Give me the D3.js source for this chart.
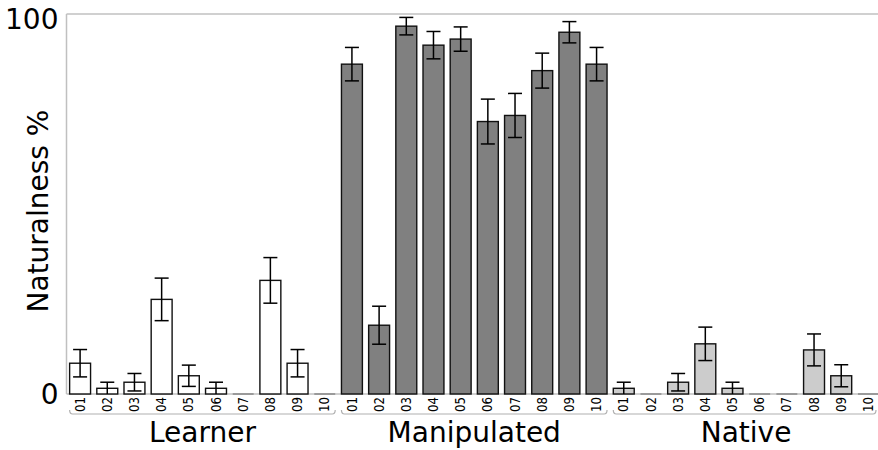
<!DOCTYPE html>
<html>
<head>
<meta charset="utf-8">
<script src="https://cdn.jsdelivr.net/npm/d3@7"></script>
<style>
  body { margin: 0; background: #fff; }
  svg { display: block; font-family: "DejaVu Sans", sans-serif; }
</style>
</head>
<body>
<svg width="878" height="450"></svg>
<script>
// groups and items
const groups = ['Learner', 'Manipulated', 'Native'];
const items = ['01', '02', '03', '04', '05', '06', '07', '08', '09', '10'];
const groupFills = ['#ffffff', '#808080', '#cccccc'];

// mean naturalness per item
const learnerValues = [8.1, 1.5, 3.1, 24.9, 4.8, 1.5, 0, 29.9, 8.1, 0];
const manipulatedValues = [86.8, 18.1, 96.8, 91.8, 93.4, 71.7, 73.3, 85.1, 95.2, 86.8];
const nativeValues = [1.5, 0, 3.1, 13.2, 1.5, 0, 0, 11.6, 4.8, 0];

// error (half-length of error bar)
const learnerErrors = [3.6, 1.6, 2.3, 5.6, 2.8, 1.6, 0, 6.0, 3.6, 0];
const manipulatedErrors = [4.4, 5.0, 2.3, 3.6, 3.2, 5.9, 5.8, 4.6, 2.8, 4.4];
const nativeErrors = [1.6, 0, 2.3, 4.4, 1.6, 0, 0, 4.2, 2.9, 0];

const yTicks = [0, 100];

const valuesByGroup = [learnerValues, manipulatedValues, nativeValues];
const errorsByGroup = [learnerErrors, manipulatedErrors, nativeErrors];

const data = [];
groups.forEach((g, gi) => {
    items.forEach((it, i) => {
        data.push({
            key: g + '-' + it,
            group: g,
            gi: gi,
            item: it,
            value: valuesByGroup[gi][i],
            err: errorsByGroup[gi][i]
        });
    });
});

const svg = d3.select('svg');
const plotLeft = 66.5, plotRight = 882, plotTop = 14, plotBottom = 394;

const x = d3.scaleBand()
    .domain(data.map(d => d.key))
    .range([plotLeft, plotRight])
    .paddingInner(0.23)
    .paddingOuter(0.115);

const y = d3.scaleLinear().domain([0, 100]).range([plotBottom, plotTop]);

const axisColor = '#c0c0c0';

// frame lines (left, top, bottom)
svg.append('line')
    .attr('x1', plotLeft).attr('x2', plotLeft)
    .attr('y1', plotTop).attr('y2', plotBottom)
    .attr('stroke', axisColor).attr('stroke-width', 1.5);
svg.append('line')
    .attr('x1', plotLeft).attr('x2', 878)
    .attr('y1', plotTop).attr('y2', plotTop)
    .attr('stroke', axisColor).attr('stroke-width', 1.5);
svg.append('line')
    .attr('x1', plotLeft).attr('x2', 878)
    .attr('y1', plotBottom).attr('y2', plotBottom)
    .attr('stroke', axisColor).attr('stroke-width', 1.5);

// bars
svg.selectAll('.bar')
    .data(data.filter(d => d.value > 0))
    .enter()
    .append('rect')
    .attr('class', 'bar')
    .attr('x', d => x(d.key))
    .attr('y', d => y(d.value))
    .attr('width', x.bandwidth())
    .attr('height', d => y(0) - y(d.value))
    .attr('fill', d => groupFills[d.gi])
    .attr('stroke', '#111')
    .attr('stroke-width', 1.4);

// zero-valued bars show as a flat mark on the baseline
svg.selectAll('.zero')
    .data(data.filter(d => d.value === 0))
    .enter()
    .append('line')
    .attr('x1', d => x(d.key))
    .attr('x2', d => x(d.key) + x.bandwidth())
    .attr('y1', y(0)).attr('y2', y(0))
    .attr('stroke', '#9a9a9a')
    .attr('stroke-width', 2);

// error bars
const capHalf = 7;
const errs = svg.selectAll('.err')
    .data(data.filter(d => d.err > 0))
    .enter()
    .append('g')
    .attr('class', 'err')
    .attr('stroke', '#000')
    .attr('stroke-width', 1.5);
errs.append('line')
    .attr('x1', d => x(d.key) + x.bandwidth() / 2)
    .attr('x2', d => x(d.key) + x.bandwidth() / 2)
    .attr('y1', d => y(Math.min(100, d.value + d.err)))
    .attr('y2', d => y(Math.max(0, d.value - d.err)));
errs.append('line')
    .attr('x1', d => x(d.key) + x.bandwidth() / 2 - capHalf)
    .attr('x2', d => x(d.key) + x.bandwidth() / 2 + capHalf)
    .attr('y1', d => y(d.value + d.err))
    .attr('y2', d => y(d.value + d.err));
errs.filter(d => d.value - d.err > 0).append('line')
    .attr('x1', d => x(d.key) + x.bandwidth() / 2 - capHalf)
    .attr('x2', d => x(d.key) + x.bandwidth() / 2 + capHalf)
    .attr('y1', d => y(d.value - d.err))
    .attr('y2', d => y(d.value - d.err));

// y tick labels
svg.selectAll('.ytick')
    .data(yTicks)
    .enter()
    .append('text')
    .attr('class', 'ytick')
    .attr('x', plotLeft - 8)
    .attr('y', d => Math.max(y(d), 19))
    .attr('dy', '0.35em')
    .attr('text-anchor', 'end')
    .attr('font-size', 28)
    .text(d => d);

// y axis title
svg.append('text')
    .attr('transform', 'translate(48,211) rotate(-90)')
    .attr('text-anchor', 'middle')
    .attr('font-size', 28)
    .text('Naturalness %');

// item labels, rotated to read bottom-to-top (squeezed a bit along their length)
const xticks = svg.selectAll('.xtick')
    .data(data)
    .enter()
    .append('g')
    .attr('class', 'xtick')
    .attr('transform', d => 'translate(' + (x(d.key) + x.bandwidth() / 2).toFixed(2) + ',397)');
xticks.append('text')
    .attr('transform', 'rotate(-90)')
    .attr('x', 0)
    .attr('y', 0)
    .attr('dy', '0.33em')
    .attr('text-anchor', 'end')
    .attr('font-size', 14)
    .attr('textLength', 15)
    .attr('lengthAdjust', 'spacingAndGlyphs')
    .text(d => d.item);

// group brackets and names
const groupInfo = groups.map((g, gi) => {
    const keys = data.filter(d => d.gi === gi).map(d => d.key);
    return {
        name: g,
        x0: x(keys[0]),
        x1: Math.min(x(keys[keys.length - 1]) + x.bandwidth(), 876)
    };
});

svg.selectAll('.bracket')
    .data(groupInfo)
    .enter()
    .append('path')
    .attr('class', 'bracket')
    .attr('d', d => `M${d.x0},410 Q${d.x0},414 ${d.x0 + 3},414 L${d.x1 - 3},414 Q${d.x1},414 ${d.x1},410`)
    .attr('fill', 'none')
    .attr('stroke', '#b0b0b0')
    .attr('stroke-width', 1.2);

svg.selectAll('.gname')
    .data(groupInfo)
    .enter()
    .append('text')
    .attr('class', 'gname')
    .attr('x', (d, i) => i === 2 ? (d.x0 + x(data[29].key) + x.bandwidth()) / 2 : (d.x0 + d.x1) / 2)
    .attr('y', 442)
    .attr('text-anchor', 'middle')
    .attr('font-size', 28)
    .text(d => d.name);
</script>
</body>
</html>
